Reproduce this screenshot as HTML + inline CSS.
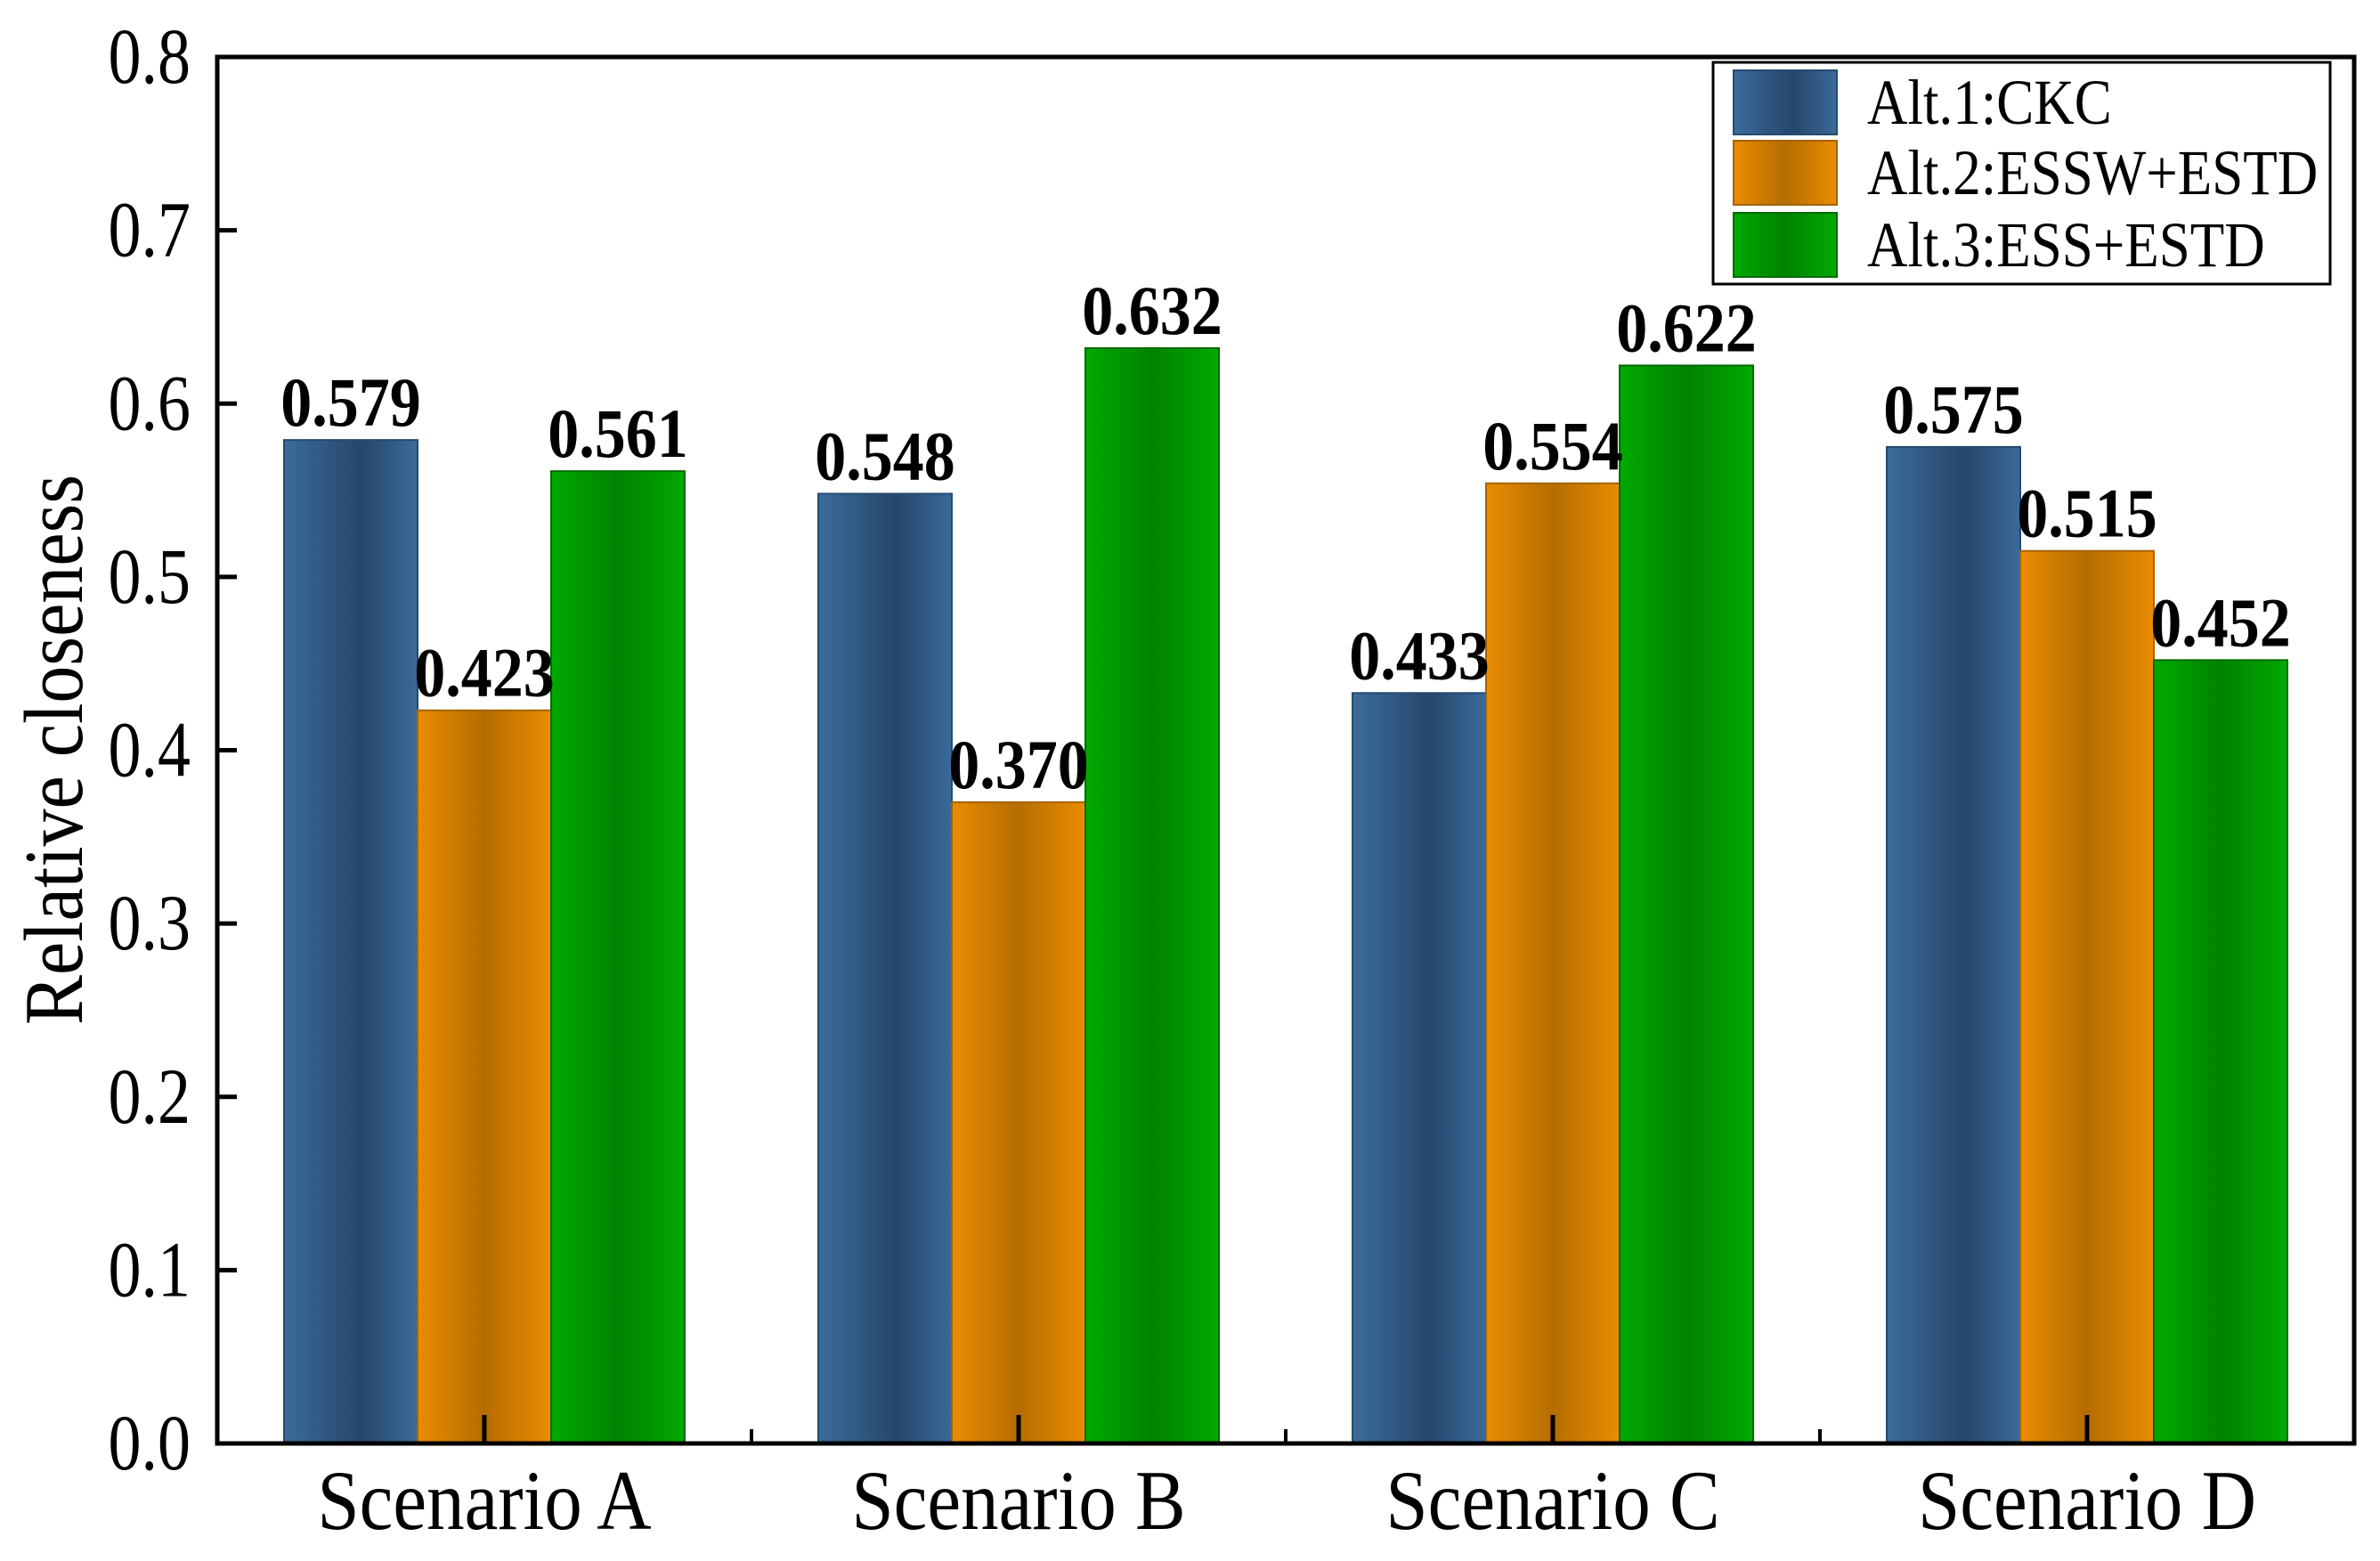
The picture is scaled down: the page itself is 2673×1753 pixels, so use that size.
<!DOCTYPE html>
<html><head><meta charset="utf-8"><style>
html,body{margin:0;padding:0;background:#fff;}
svg{display:block;}
text{font-family:"Liberation Serif",serif;}
</style></head><body>
<svg id="chart" width="2673" height="1753" viewBox="0 0 2673 1753" xmlns="http://www.w3.org/2000/svg">
<defs>
<linearGradient id="gBlue" x1="0" x2="1" y1="0" y2="0"><stop offset="0" stop-color="#3b6c9c"/><stop offset="0.58" stop-color="#26466b"/><stop offset="1" stop-color="#3a6a9a"/></linearGradient>
<linearGradient id="gOrange" x1="0" x2="1" y1="0" y2="0"><stop offset="0" stop-color="#ea8c02"/><stop offset="0.5" stop-color="#b56d00"/><stop offset="1" stop-color="#ea8c02"/></linearGradient>
<linearGradient id="gGreen" x1="0" x2="1" y1="0" y2="0"><stop offset="0" stop-color="#00aa00"/><stop offset="0.5" stop-color="#008200"/><stop offset="1" stop-color="#00aa00"/></linearGradient>
</defs>
<g id="bars"></g>
<g id="labels"></g>
<g id="axes"></g>
</svg>
<script>
const categories = ["Scenario A","Scenario B","Scenario C","Scenario D"];
const seriesNames = ["Alt.1:CKC","Alt.2:ESSW+ESTD","Alt.3:ESS+ESTD"];
const alt1 = [0.579,0.548,0.433,0.575];
const alt2 = [0.423,0.370,0.554,0.515];
const alt3 = [0.561,0.632,0.622,0.452];
const valueLabels1 = ["0.579","0.548","0.433","0.575"];
const valueLabels2 = ["0.423","0.370","0.554","0.515"];
const valueLabels3 = ["0.561","0.632","0.622","0.452"];
const yTicks = [0,0.1,0.2,0.3,0.4,0.5,0.6,0.7,0.8];
const yTickLabels = ["0.0","0.1","0.2","0.3","0.4","0.5","0.6","0.7","0.8"];

const NS="http://www.w3.org/2000/svg";
const L=244,R=2644,T=64,B=1621,yMax=0.8;
const y=v=>B-(v/yMax)*(B-T);
const catW=(R-L)/categories.length;
const xc=i=>L+catW*(i+0.5);
const barW=150;
function mk(tag,attrs,parent){const e=document.createElementNS(NS,tag);for(const k in attrs)e.setAttribute(k,attrs[k]);parent.appendChild(e);return e;}
function txt(x,yy,sy,attrs,parent){const a=Object.assign({x:0,y:0,transform:'translate('+x+','+yy+') scale(1,'+sy+')'},attrs);return mk('text',a,parent);}
const gBars=document.getElementById('bars'),gLab=document.getElementById('labels'),gAx=document.getElementById('axes');
const series=[alt1,alt2,alt3],labs=[valueLabels1,valueLabels2,valueLabels3];
const fills=["url(#gBlue)","url(#gOrange)","url(#gGreen)"],strokes=["#244a70","#a56200","#006a00"];
series.forEach((s,si)=>{
  s.forEach((v,i)=>{
    const x0=xc(i)-1.5*barW+si*barW;
    const r=mk('rect',{x:x0,y:y(v),width:barW,height:B-y(v),fill:fills[si],stroke:strokes[si],'stroke-width':2},gBars);
    
    
    const t=txt(x0+barW/2,y(v)-16,1.12,{'text-anchor':'middle','font-size':70,'font-weight':'bold',fill:'#000'},gLab);
    t.textContent=labs[si][i];
    
    
  });
});
const fr=mk('rect',{x:L,y:T,width:R-L,height:B-T,fill:'none',stroke:'#000','stroke-width':5},gAx);


yTicks.forEach((v,i)=>{
  if(v>0&&v<yMax){const tk=mk('line',{x1:L,x2:L+22,y1:y(v),y2:y(v),stroke:'#000','stroke-width':5},gAx);
  
  }
  const t=txt(214,y(v)+29,1.2,{'text-anchor':'end','font-size':74,fill:'#000'},gAx);
  t.textContent=yTickLabels[i];
  
  
});
categories.forEach((c,i)=>{
  const tk=mk('line',{x1:xc(i),x2:xc(i),y1:B,y2:B-32,stroke:'#000','stroke-width':5},gAx);
  
  
  if(i<categories.length-1){const m=mk('line',{x1:L+catW*(i+1),x2:L+catW*(i+1),y1:B,y2:B-16,stroke:'#000','stroke-width':4},gAx);
  
  }
  const t=txt(xc(i),1717,1.12,{'text-anchor':'middle','font-size':85,fill:'#000'},gAx);
  t.textContent=c;
  
  
});
const yt=mk('text',{x:0,y:0,transform:'translate(92,842) rotate(-90) scale(1,1.12)','text-anchor':'middle','font-size':84,fill:'#000'},gAx);
yt.textContent='Relative closeness';


const lg=mk('g',{},gAx);


const lb=mk('rect',{x:1924,y:70,width:693,height:249,fill:'#fff',stroke:'#000','stroke-width':3},lg);


seriesNames.forEach((n,si)=>{
  const top=[79,158,239][si];
  const sw=mk('rect',{x:1947,y:top,width:116,height:72,fill:fills[si],stroke:strokes[si],'stroke-width':2},lg);
  
  
  const t=txt(2097,top+60,1.15,{'font-size':63,fill:'#000'},lg);
  t.textContent=n;
  
  
});
</script>
</body></html>
